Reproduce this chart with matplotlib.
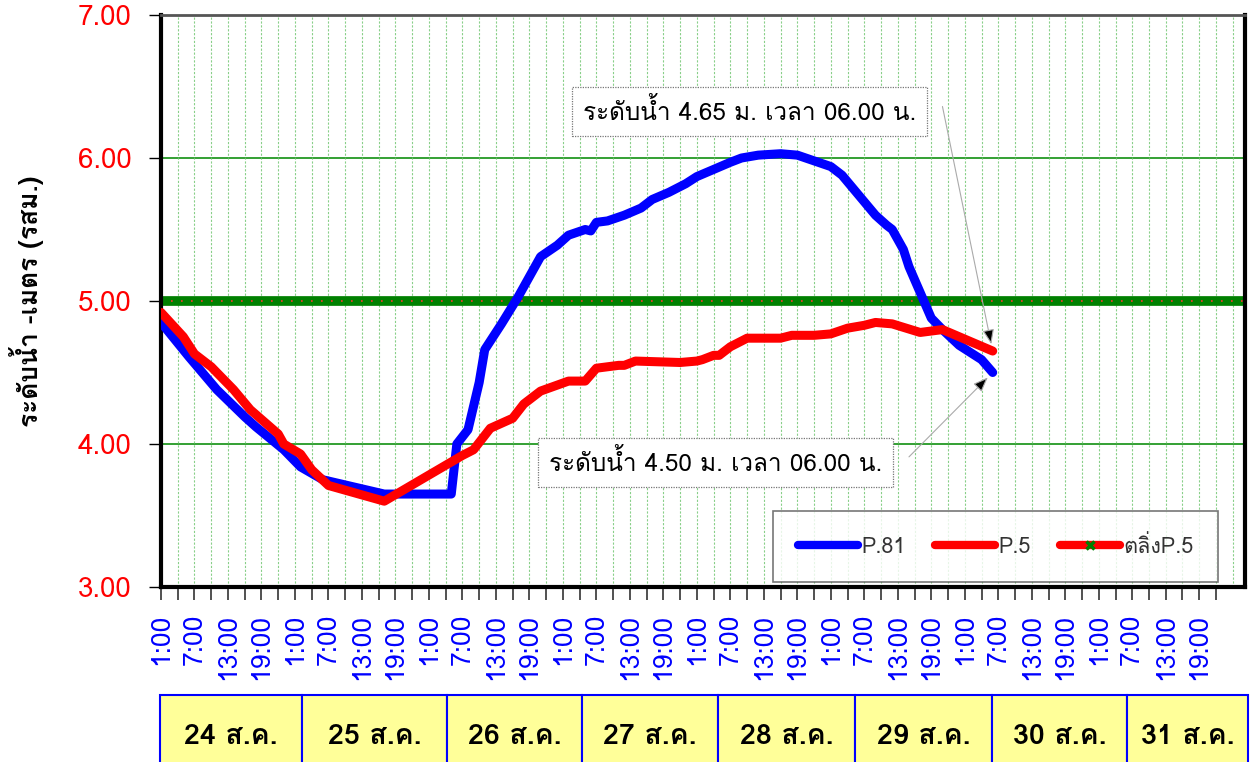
# -*- coding: utf-8 -*-
import matplotlib
matplotlib.use('Agg')
import matplotlib.pyplot as plt
from matplotlib import font_manager
from matplotlib.lines import Line2D
from fontTools.ttLib import TTFont


def find_thai_font():
    """look for an installed font that has Thai glyphs (prefer one with a bold face)"""
    preferred = ['Tahoma', 'Leelawadee UI', 'Noto Sans Thai', 'Noto Sans Thai UI',
                 'Loma', 'Garuda', 'Sarabun', 'Norasi', 'Waree', 'Umpush', 'Kinnari']
    found = {}
    for f in font_manager.fontManager.ttflist:
        try:
            tt = TTFont(f.fname, fontNumber=0, lazy=True)
            cmap = tt.getBestCmap()
            if cmap and 0x0E23 in cmap and 0x0E14 in cmap:
                w = f.weight if isinstance(f.weight, int) else 400
                found.setdefault(f.name, set()).add(w)
        except Exception:
            continue
    with_bold = [n for n, ws in found.items() if max(ws) >= 600]
    for pool in (with_bold, list(found)):
        for name in preferred:
            if name in pool:
                return name
        if pool:
            return pool[0]
    return None


thai = find_thai_font()
plt.rcParams['font.family'] = [thai, 'DejaVu Sans'] if thai else ['DejaVu Sans']

# ---- data (hours counted from 1:00 on 24 Aug) ----
p81_hours = [0, 5, 10, 15, 17, 22, 25, 29, 40, 52, 53, 55, 57, 58, 61, 64, 68,
             71, 73, 76, 77, 78, 80, 83, 86, 88, 91, 94, 96, 99, 102, 104, 107,
             111, 114, 117, 120, 122, 125, 128, 130, 131, 133, 134, 136, 138,
             140, 143, 147, 149]
p81_level = [4.85, 4.61, 4.38, 4.19, 4.12, 3.96, 3.84, 3.75, 3.65, 3.65, 4.00,
             4.10, 4.43, 4.66, 4.84, 5.03, 5.31, 5.39, 5.46, 5.50, 5.49, 5.55,
             5.56, 5.60, 5.65, 5.71, 5.76, 5.82, 5.87, 5.92, 5.97, 6.00, 6.02,
             6.03, 6.02, 5.98, 5.94, 5.88, 5.74, 5.60, 5.53, 5.50, 5.36, 5.24,
             5.06, 4.88, 4.80, 4.69, 4.59, 4.50]

p5_hours = [0, 4, 6, 9, 13, 16, 21, 22, 25, 27, 30, 40, 54, 56, 59, 63, 65, 68,
            73, 76, 78, 82, 83, 85, 93, 96, 97, 99, 100, 102, 105, 111, 113,
            117, 120, 123, 126, 128, 131, 136, 140, 149]
p5_level = [4.92, 4.75, 4.63, 4.54, 4.38, 4.24, 4.07, 4.00, 3.93, 3.82, 3.71,
            3.60, 3.92, 3.96, 4.11, 4.18, 4.28, 4.37, 4.44, 4.44, 4.53, 4.55,
            4.55, 4.58, 4.57, 4.58, 4.59, 4.62, 4.62, 4.68, 4.74, 4.74, 4.76,
            4.76, 4.77, 4.81, 4.83, 4.85, 4.84, 4.78, 4.80, 4.65]

bank_level = 5.00
tick_hours = list(range(0, 190, 6))
tick_labels = ['1:00', '7:00', '13:00', '19:00'] * 8
day_labels = ['24 ส.ค.', '25 ส.ค.', '26 ส.ค.', '27 ส.ค.',
              '28 ส.ค.', '29 ส.ค.', '30 ส.ค.', '31 ส.ค.']
note_p5 = 'ระดับน้ำ 4.65 ม. เวลา 06.00 น.'
note_p81 = 'ระดับน้ำ 4.50 ม. เวลา 06.00 น.'

# ---- figure ----
W, H = 1250, 762
fig = plt.figure(figsize=(12.5, 7.62), dpi=100)
ax = fig.add_axes([161 / W, 1 - 587 / H, (1245 - 161) / W, (587 - 15) / H])

ax.set_xlim(0, 194.2)
ax.set_ylim(3, 7)

# grid
for y in [4, 5, 6]:
    ax.axhline(y, color='#109010', lw=1.2, zorder=1)
for x in range(3, 194, 3):
    ax.axvline(x, color='#6cc46c', lw=0.8, ls=(0, (2, 1.5)), alpha=0.8, zorder=1)

# bank level line
ax.axhline(bank_level, color='#008000', lw=7, zorder=2)
ax.axhline(bank_level, color='#ff3030', lw=1.2, ls=(0, (1, 5)), zorder=2)

ax.plot(p81_hours, p81_level, color='#0000ff', lw=6.5, solid_capstyle='round',
        solid_joinstyle='round', zorder=4)
ax.plot(p5_hours, p5_level, color='#ff0000', lw=6.5, solid_capstyle='round',
        solid_joinstyle='round', zorder=5)

# ticks
ax.set_yticks([3, 4, 5, 6, 7])
ax.set_yticklabels(['%.2f' % v for v in [3, 4, 5, 6, 7]], color='#ff0000', fontsize=20)
ax.tick_params(axis='y', length=9, width=1, pad=12)
ax.set_xticks(tick_hours)
ax.set_xticklabels(tick_labels, rotation=90, color='#0000ff', fontsize=19)
ax.set_xticks(list(range(3, 194, 6)), minor=True)
ax.tick_params(axis='x', which='both', length=9, width=1.2, pad=10, color='#333333')

ax.set_ylabel('ระดับน้ำ -เมตร (รสม.)', fontsize=19, fontweight='bold')
ax.yaxis.set_label_coords(-0.108, 0.5)

for side in ['left', 'bottom', 'right']:
    ax.spines[side].set_linewidth(3)
    ax.spines[side].set_color('black')
ax.spines['top'].set_linewidth(2)
ax.spines['top'].set_color('#555555')

# annotations
box = dict(boxstyle='square,pad=0.45', fc='white', ec='#777777', lw=0.9, ls=(0, (1, 1)))
ax.text(0.3895, 0.831, note_p5, transform=ax.transAxes, fontsize=17.5, va='center',
        ha='left', bbox=box, zorder=6)
ax.text(0.358, 0.218, note_p81, transform=ax.transAxes, fontsize=17.5, va='center',
        ha='left', bbox=box, zorder=6)
arrow = dict(arrowstyle='-|>,head_length=0.9,head_width=0.35', ec='#aaaaaa',
             fc='black', lw=0.8, shrinkA=0, shrinkB=5)
ax.annotate('', xy=(p5_hours[-1], p5_level[-1]), xytext=(140, 6.36), arrowprops=arrow, zorder=6)
ax.annotate('', xy=(p81_hours[-1], p81_level[-1]), xytext=(134, 3.91), arrowprops=arrow, zorder=6)

# legend
handles = [Line2D([], [], color='#0000ff', lw=6, solid_capstyle='round'),
           Line2D([], [], color='#ff0000', lw=6, solid_capstyle='round'),
           Line2D([], [], color='#ff0000', lw=6, solid_capstyle='round',
                  marker='x', mec='#008000', mew=2.5, ms=6)]
leg = ax.legend(handles, ['P.81', 'P.5', 'ตลิ่งP.5'], loc='center', ncol=3,
                bbox_to_anchor=(0.565, 0.006, 0.41, 0.129),
                fontsize=15.5, handlelength=2.8, handletextpad=0.15, numpoints=1,
                columnspacing=1.35, frameon=True, fancybox=False, edgecolor='#555555',
                borderpad=1.15, borderaxespad=0, labelcolor='#333333')
leg.get_frame().set_linewidth(1.2)
leg.set_zorder(7)

# date boxes below the axis
ax_d = fig.add_axes([160 / W, 0, (1248 - 160) / W, (762 - 695) / H])
ax_d.axis('off')
widths = [142, 145, 135, 136, 137, 137, 135, 121]
tbl = ax_d.table(cellText=[day_labels], colWidths=[w / sum(widths) for w in widths],
                 cellColours=[['#ffff99'] * 8], cellLoc='center', bbox=[0, -0.25, 1, 1.25])
tbl.auto_set_font_size(False)
for (r, c), cell in tbl.get_celld().items():
    cell.set_edgecolor('#0000ff')
    cell.set_linewidth(1.5)
    cell.get_text().set_fontsize(20.5)
    cell.get_text().set_fontweight('bold')
    cell.get_text().set_va('center')

fig.savefig('out.png', dpi=100)
